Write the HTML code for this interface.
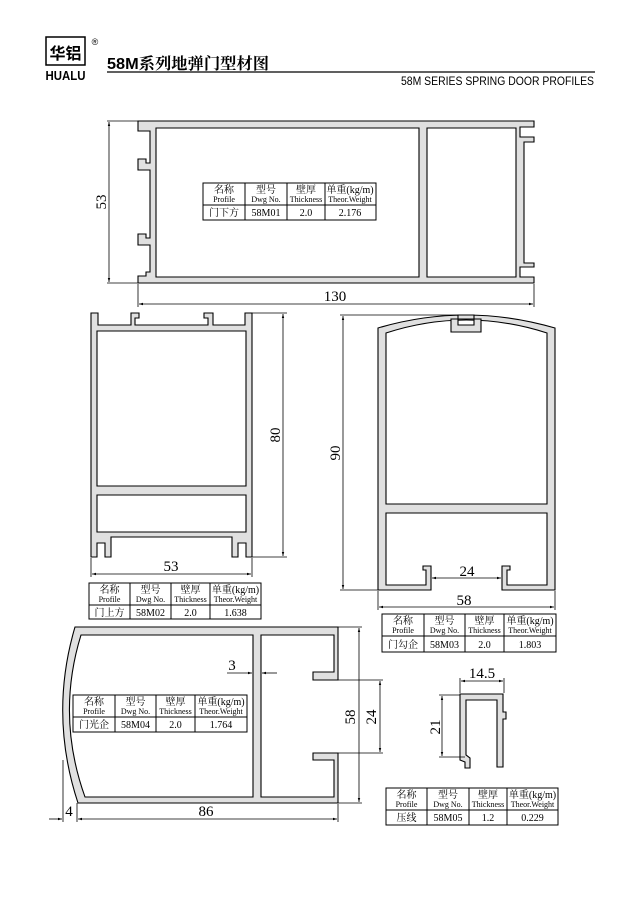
<!DOCTYPE html>
<html><head><meta charset="utf-8"><style>
html,body{margin:0;padding:0;background:#fff;}
svg{display:block;}
.d{font-family:"Liberation Serif",serif;font-size:15px;}
.h{font-size:10px;font-family:"Liberation Serif","Noto Serif CJK SC",serif;}
.s{font-size:8px;font-family:"Liberation Serif",serif;}
.v{font-size:10px;font-family:"Liberation Serif","Noto Serif CJK SC",serif;}
</style></head><body>
<svg width="640" height="905" viewBox="0 0 640 905" xmlns="http://www.w3.org/2000/svg">
<defs>
<marker id="a" viewBox="0 0 10 10" refX="10" refY="5" markerWidth="7" markerHeight="5" orient="auto-start-reverse"><path d="M0,2 L10,5 L0,8 z" fill="#000"/></marker>
</defs>
<rect x="46" y="37" width="39" height="28" fill="#fff" stroke="#000" stroke-width="1.5"/>
<text x="65.5" y="59" text-anchor="middle" font-family="Noto Sans CJK SC,sans-serif" font-weight="bold" font-size="16">华铝</text>
<text x="65.5" y="80" text-anchor="middle" font-family="Liberation Sans,sans-serif" font-size="13" font-weight="bold" textLength="40" lengthAdjust="spacingAndGlyphs">HUALU</text>
<text x="95" y="45" text-anchor="middle" font-family="Liberation Sans,sans-serif" font-size="9">®</text>
<text x="107" y="69" font-family="Liberation Sans,Noto Serif CJK SC,sans-serif" font-size="16" font-weight="bold" textLength="162" lengthAdjust="spacingAndGlyphs">58M系列地弹门型材图</text>
<line x1="107" y1="72" x2="595" y2="72" stroke="#000" stroke-width="1.2"/>
<text x="594" y="85" text-anchor="end" font-family="Liberation Sans,sans-serif" font-size="12" textLength="193" lengthAdjust="spacingAndGlyphs">58M SERIES SPRING DOOR PROFILES</text>

<g fill="#e0e0e0" stroke="#000" stroke-width="1.1" fill-rule="evenodd">
<path d="M138,121 L534,121 L534,127 L520,127 L520,137 L534,137 L534,142 L524,142 L524,263 L534,263 L534,267 L520,267 L520,277 L534,277 L534,283 L138,283 L138,276 L146,276 L146,272 L150,272 L150,245 L138,245 L138,234 L146,234 L146,238 L150,238 L150,170 L138,170 L138,159 L146,159 L146,163 L150,163 L150,131 L138,131 Z M156,128 L419,128 L419,277 L156,277 Z M427,128 L516,128 L516,277 L427,277 Z"/>
<path d="M91,313 L98,313 L98,325 L131,325 L131,313 L139,313 L139,318 L135,318 L135,325 L208,325 L208,318 L204,318 L204,313 L213,313 L213,325 L245,325 L245,313 L252,313 L252,557 L246,557 L246,543 L238,543 L238,557 L232,557 L232,537 L111,537 L111,557 L105,557 L105,543 L97,543 L97,557 L91,557 Z M97,331 L246,331 L246,486 L97,486 Z M97,495 L246,495 L246,532 L97,532 Z"/>
<path d="M378,328 Q466,302 555,328 L555,590 L502,590 L502,566 L510,566 L510,570 L507,570 L507,585 L547,585 L547,513 L386,513 L386,585 L426,585 L426,570 L423,570 L423,566 L431,566 L431,590 L378,590 Z M386,333 Q466,307 547,333 L547,504 L386,504 Z"/>
<path d="M451,319 L481,319 L481,332 L451,332 Z M458,315 L474,315 L474,325 L458,325 Z"/>
<path d="M75,627 L338,627 L338,680 L313,680 L313,672 L334,672 L334,635 L261,635 L261,797 L334,797 L334,760 L313,760 L313,753 L338,753 L338,803 L78,803 Q49,715 75,627 Z M81,635 L253,635 L253,797 L85,797 Q56,716 81,635 Z"/>
<path d="M460,694 L503,694 L503,712 L506,712 L506,719 L503,719 L503,767 L497,767 L497,700 L466,700 L466,755 L470,758 L470,768 L465,768 L465,762 L460,760 Z"/>
</g>

<g stroke="#000" stroke-width="0.8" fill="none">
<line x1="107" y1="121" x2="138" y2="121"/><line x1="107" y1="283" x2="138" y2="283"/>
<line x1="109" y1="122" x2="109" y2="282" marker-start="url(#a)" marker-end="url(#a)"/>
<line x1="138" y1="284" x2="138" y2="307"/><line x1="534" y1="284" x2="534" y2="307"/>
<line x1="139" y1="304" x2="533" y2="304" marker-start="url(#a)" marker-end="url(#a)"/>
<line x1="252" y1="313" x2="287" y2="313"/><line x1="252" y1="557" x2="287" y2="557"/>
<line x1="283" y1="314" x2="283" y2="556" marker-start="url(#a)" marker-end="url(#a)"/>
<line x1="91" y1="558" x2="91" y2="577"/><line x1="252" y1="558" x2="252" y2="577"/>
<line x1="92" y1="574" x2="251" y2="574" marker-start="url(#a)" marker-end="url(#a)"/>
<line x1="340" y1="315" x2="466" y2="315"/><line x1="340" y1="590" x2="378" y2="590"/>
<line x1="343" y1="316" x2="343" y2="589" marker-start="url(#a)" marker-end="url(#a)"/>
<line x1="432" y1="578" x2="501" y2="578" marker-start="url(#a)" marker-end="url(#a)"/>
<line x1="378" y1="591" x2="378" y2="610"/><line x1="555" y1="591" x2="555" y2="610"/>
<line x1="379" y1="607" x2="554" y2="607" marker-start="url(#a)" marker-end="url(#a)"/>
<line x1="338" y1="627" x2="362" y2="627"/><line x1="338" y1="803" x2="362" y2="803"/>
<line x1="359" y1="628" x2="359" y2="802" marker-start="url(#a)" marker-end="url(#a)"/>
<line x1="338" y1="680" x2="383" y2="680"/><line x1="338" y1="753" x2="383" y2="753"/>
<line x1="380" y1="681" x2="380" y2="752" marker-start="url(#a)" marker-end="url(#a)"/>
<line x1="227" y1="673" x2="252" y2="673" marker-end="url(#a)"/>
<line x1="277" y1="673" x2="262" y2="673" marker-end="url(#a)"/>
<line x1="63" y1="760" x2="63" y2="822"/><line x1="77" y1="803" x2="77" y2="822"/><line x1="338" y1="804" x2="338" y2="822"/>
<line x1="49" y1="819" x2="62" y2="819" marker-end="url(#a)"/>
<line x1="78" y1="819" x2="337" y2="819" marker-start="url(#a)" marker-end="url(#a)"/>
<line x1="460" y1="678" x2="460" y2="693"/><line x1="504" y1="678" x2="504" y2="693"/>
<line x1="461" y1="681" x2="503" y2="681" marker-start="url(#a)" marker-end="url(#a)"/>
<line x1="439" y1="695" x2="460" y2="695"/><line x1="439" y1="757" x2="465" y2="757"/>
<line x1="442" y1="696" x2="442" y2="756" marker-start="url(#a)" marker-end="url(#a)"/>
</g>

<g class="d">
<text x="106" y="202" transform="rotate(-90 106 202)" text-anchor="middle">53</text>
<text x="335" y="301" text-anchor="middle">130</text>
<text x="280" y="435" transform="rotate(-90 280 435)" text-anchor="middle">80</text>
<text x="171" y="571" text-anchor="middle">53</text>
<text x="340" y="453" transform="rotate(-90 340 453)" text-anchor="middle">90</text>
<text x="467" y="576" text-anchor="middle">24</text>
<text x="464" y="605" text-anchor="middle">58</text>
<text x="355" y="717" transform="rotate(-90 355 717)" text-anchor="middle">58</text>
<text x="376" y="717" transform="rotate(-90 376 717)" text-anchor="middle">24</text>
<text x="232" y="670" text-anchor="middle">3</text>
<text x="69" y="816" text-anchor="middle">4</text>
<text x="206" y="816" text-anchor="middle">86</text>
<text x="482" y="678" text-anchor="middle">14.5</text>
<text x="440" y="727" transform="rotate(-90 440 727)" text-anchor="middle">21</text>
</g>

<g stroke="#000" stroke-width="1" fill="#fff">
<rect x="203" y="183" width="173" height="37"/><path d="M203,205H376M245,183V220M287,183V220M325,183V220" fill="none"/>
<rect x="89" y="583" width="172" height="36"/><path d="M89,605H261M130,583V619M171,583V619M210,583V619" fill="none"/>
<rect x="382" y="614" width="174" height="38"/><path d="M382,636H556M424,614V652M465,614V652M504,614V652" fill="none"/>
<rect x="73" y="695" width="174" height="37"/><path d="M73,717H247M115,695V732M156,695V732M195,695V732" fill="none"/>
<rect x="386" y="788" width="172" height="37"/><path d="M386,810H558M427,788V825M469,788V825M507,788V825" fill="none"/>
</g>
<g text-anchor="middle">
<g transform="translate(203,183)">
<text class="h" x="21" y="10">名称</text><text class="s" x="21" y="19">Profile</text>
<text class="h" x="63" y="10">型号</text><text class="s" x="63" y="19">Dwg No.</text>
<text class="h" x="103" y="10">壁厚</text><text class="s" x="103" y="19">Thickness</text>
<text class="h" x="147" y="10">单重(kg/m)</text><text class="s" x="147" y="19">Theor.Weight</text>
<text class="v" x="21" y="33">门下方</text><text class="v" x="63" y="33">58M01</text><text class="v" x="103" y="33">2.0</text><text class="v" x="147" y="33">2.176</text>
</g>
<g transform="translate(89,583)">
<text class="h" x="20.5" y="10">名称</text><text class="s" x="20.5" y="19">Profile</text>
<text class="h" x="61.5" y="10">型号</text><text class="s" x="61.5" y="19">Dwg No.</text>
<text class="h" x="101.5" y="10">壁厚</text><text class="s" x="101.5" y="19">Thickness</text>
<text class="h" x="146.5" y="10">单重(kg/m)</text><text class="s" x="146.5" y="19">Theor.Weight</text>
<text class="v" x="20.5" y="33">门上方</text><text class="v" x="61.5" y="33">58M02</text><text class="v" x="101.5" y="33">2.0</text><text class="v" x="146.5" y="33">1.638</text>
</g>
<g transform="translate(382,614)">
<text class="h" x="21" y="10">名称</text><text class="s" x="21" y="19">Profile</text>
<text class="h" x="62.5" y="10">型号</text><text class="s" x="62.5" y="19">Dwg No.</text>
<text class="h" x="102.5" y="10">壁厚</text><text class="s" x="102.5" y="19">Thickness</text>
<text class="h" x="148" y="10">单重(kg/m)</text><text class="s" x="148" y="19">Theor.Weight</text>
<text class="v" x="21" y="34">门勾企</text><text class="v" x="62.5" y="34">58M03</text><text class="v" x="102.5" y="34">2.0</text><text class="v" x="148" y="34">1.803</text>
</g>
<g transform="translate(73,695)">
<text class="h" x="21" y="10">名称</text><text class="s" x="21" y="19">Profile</text>
<text class="h" x="62.5" y="10">型号</text><text class="s" x="62.5" y="19">Dwg No.</text>
<text class="h" x="102.5" y="10">壁厚</text><text class="s" x="102.5" y="19">Thickness</text>
<text class="h" x="148" y="10">单重(kg/m)</text><text class="s" x="148" y="19">Theor.Weight</text>
<text class="v" x="21" y="33">门光企</text><text class="v" x="62.5" y="33">58M04</text><text class="v" x="102.5" y="33">2.0</text><text class="v" x="148" y="33">1.764</text>
</g>
<g transform="translate(386,788)">
<text class="h" x="20.5" y="10">名称</text><text class="s" x="20.5" y="19">Profile</text>
<text class="h" x="62" y="10">型号</text><text class="s" x="62" y="19">Dwg No.</text>
<text class="h" x="102" y="10">壁厚</text><text class="s" x="102" y="19">Thickness</text>
<text class="h" x="146.5" y="10">单重(kg/m)</text><text class="s" x="146.5" y="19">Theor.Weight</text>
<text class="v" x="20.5" y="33">压线</text><text class="v" x="62" y="33">58M05</text><text class="v" x="102" y="33">1.2</text><text class="v" x="146.5" y="33">0.229</text>
</g>
</g>
</svg>
</body></html>
